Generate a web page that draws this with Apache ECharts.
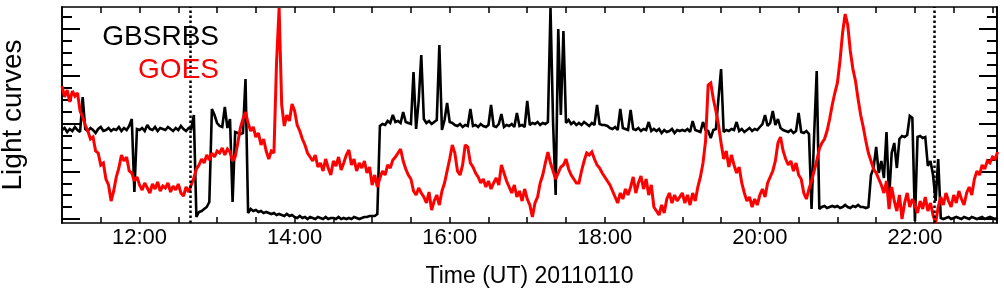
<!DOCTYPE html>
<html>
<head>
<meta charset="utf-8">
<script src="https://cdn.jsdelivr.net/npm/echarts@6/dist/echarts.min.js"></script>
<style>
html,body{margin:0;padding:0;background:#fff;}
#chart{width:1004px;height:296px;}
</style>
</head>
<body>
<div id="chart"></div>
<script>
// Time grid: minutes after midnight, one sample every 2 minutes starting 11:00
const startMinute = 660;
const stepMinutes = 2;
// GBSRBS light curve (arbitrary units)
const gbsrbs = [
93,95,91,94,92,96,93,91,126,94,
92,95,93,90,94,96,92,93,95,92,
94,93,96,92,95,93,97,104,31,94,
93,95,92,98,94,93,96,92,95,94,
93,96,94,92,95,93,97,94,92,95,
94,108,6,11,12,14,16,21,114,108,
100,97,96,116,95,104,21,91,90,89,
90,144,10,14,12,13,11,12,10,11,
10,9,10,8,9,8,7,9,7,8,
6,5,7,5,6,4,6,5,4,6,
5,4,6,4,5,5,4,6,4,5,
4,5,4,6,5,4,5,6,6,7,
7,7,9,97,99,98,102,100,108,101,
102,100,111,101,100,99,151,94,122,168,
104,100,102,99,101,103,178,93,103,120,
101,100,98,97,99,96,98,97,114,97,
98,96,99,97,96,98,118,97,96,99,
109,96,98,97,99,96,110,97,98,96,
122,98,100,99,101,98,100,99,101,215,
100,28,194,108,192,100,103,99,101,98,
100,98,101,99,97,100,98,118,99,98,
98,97,95,94,96,93,114,95,94,93,
113,94,93,95,92,94,93,101,92,94,
92,94,90,93,91,92,94,90,93,92,
93,92,94,91,102,93,92,91,101,93,
92,85,93,94,125,154,91,93,92,94,
93,101,92,94,91,93,95,92,94,93,
96,99,108,97,100,112,98,104,95,93,
92,91,93,90,92,110,91,90,92,89,
14,88,152,14,16,17,15,16,17,16,
17,15,16,18,16,15,17,16,18,16,
16,15,16,48,55,76,50,62,45,91,
24,70,80,55,84,87,86,88,107,105,
2,86,87,85,86,57,62,48,22,64,
5,4,5,6,4,5,6,5,4,6,
5,4,6,5,4,5,6,4,5,6,
5,4,5
];
// GOES light curve (arbitrary units)
const goes = [
137,126,133,121,132,127,130,112,106,98,
92,84,86,72,70,58,60,44,38,22,
32,46,55,68,62,66,52,50,42,46,
38,33,40,35,30,39,34,41,32,37,
35,40,31,37,33,39,30,27,36,31,
38,45,54,58,64,60,68,63,70,66,
72,70,75,68,74,71,62,66,80,95,
104,111,100,92,96,86,90,78,84,72,
64,72,70,160,215,118,97,108,102,119,
112,98,92,84,78,70,66,62,68,56,
60,52,64,55,48,62,57,66,53,60,
68,73,58,64,52,60,55,62,50,56,
38,48,36,45,52,48,58,55,63,66,
70,74,62,54,48,44,32,28,35,30,
26,20,31,13,22,28,18,32,40,52,
64,78,70,52,48,58,78,76,60,56,
50,46,40,44,36,42,34,40,45,38,
58,50,42,36,30,38,26,32,22,34,
24,18,6,20,26,40,48,60,71,60,
52,44,50,56,58,64,54,48,44,40,
40,52,62,70,68,71,64,58,55,50,
46,42,38,32,26,20,30,24,34,28,
36,46,30,40,47,34,44,28,38,16,
12,8,18,10,24,30,20,28,22,26,
30,20,28,18,30,22,36,46,60,82,
138,140,124,112,98,80,64,72,56,68,
58,50,56,40,30,22,26,16,24,18,
28,34,26,40,46,52,62,80,86,72,
64,58,62,52,60,48,44,30,24,34,
42,52,62,74,80,84,92,104,118,130,
140,162,190,209,198,172,154,142,124,108,
96,82,70,62,54,50,44,38,30,42,
14,36,22,12,28,4,20,30,16,24,
18,10,22,14,26,12,20,8,0,16,
26,18,30,22,16,28,20,32,24,18,
30,36,28,44,52,48,58,54,62,60,
66,64,71
];
// Axis range and ticks (minutes after midnight)
const xMin = 660, xMax = 1383.5;
const xTickValues = [690,720,750,780,810,840,870,900,930,960,990,1020,1050,1080,1110,1140,1170,1200,1230,1260,1290,1320,1350,1380];
const xLabelValues = [720,840,960,1080,1200,1320];
const markerTimes = [759, 1335];
const yMin = 0, yMax = 216;
const yMajorTicks = [4, 51.6, 99.2, 146.8, 194.4];
const yMinorTicks = [15.9, 27.8, 39.7, 63.5, 75.4, 87.3, 111.1, 123, 134.9, 158.7, 170.6, 182.5, 206.3];
const seriesNames = ['GBSRBS', 'GOES'];
const xAxisTitle = 'Time (UT) 20110110';
const yAxisTitle = 'Light curves';

const FONT = '"Liberation Sans", Arial, Helvetica, sans-serif';
const toPairs = arr => arr.map((v, i) => [startMinute + i * stepMinutes, v]);
const fmt = v => { const h = Math.floor(v / 60), m = Math.round(v % 60); return String(h).padStart(2,'0') + ':' + String(m).padStart(2,'0'); };

const axisLine = {show: true, onZero: false, lineStyle: {color: '#000', width: 1.6}};
const xBase = {
  type: 'value', min: xMin, max: xMax, splitLine: {show: false}, axisLine: axisLine,
  axisTick: {show: true, inside: true, length: 6, customValues: xTickValues, lineStyle: {color: '#000', width: 1.5}}
};
const yBase = {
  type: 'value', min: yMin, max: yMax, splitLine: {show: false}, axisLabel: {show: false}, axisLine: axisLine
};
const tick = (vals, len) => ({show: true, inside: true, length: len, customValues: vals, lineStyle: {color: '#000', width: 2}});

const chart = echarts.init(document.getElementById('chart'), null, {renderer: 'canvas'});
chart.setOption({
  animation: false,
  backgroundColor: '#fff',
  grid: {left: 62, right: 7, top: 7, bottom: 73, outerBoundsMode: 'none', show: false},
  xAxis: [
    Object.assign({}, xBase, {
      position: 'bottom',
      axisLabel: {show: true, customValues: xLabelValues, formatter: fmt, color: '#000', fontSize: 22, fontFamily: FONT, margin: 4},
      name: xAxisTitle, nameLocation: 'middle', nameGap: 42,
      nameTextStyle: {color: '#000', fontSize: 23, fontFamily: FONT}
    }),
    Object.assign({}, xBase, {position: 'top', axisLabel: {show: false}})
  ],
  yAxis: [
    Object.assign({}, yBase, {position: 'left', axisTick: tick(yMajorTicks, 18),
      name: yAxisTitle, nameLocation: 'middle', nameGap: 35,
      nameTextStyle: {color: '#000', fontSize: 28, fontFamily: FONT}}),
    Object.assign({}, yBase, {position: 'left', axisTick: tick(yMinorTicks, 10)}),
    Object.assign({}, yBase, {position: 'right', axisTick: tick(yMajorTicks, 18)}),
    Object.assign({}, yBase, {position: 'right', axisTick: tick(yMinorTicks, 10)})
  ],
  series: [
    {
      name: seriesNames[0], type: 'line', data: toPairs(gbsrbs), xAxisIndex: 0, yAxisIndex: 0,
      showSymbol: false, symbol: 'none', silent: true, z: 2,
      lineStyle: {color: '#000', width: 2.6, join: 'miter', miterLimit: 2}, itemStyle: {color: '#000'},
      markLine: {
        silent: true, symbol: 'none', label: {show: false},
        lineStyle: {color: '#000', width: 2.5, type: [2.5, 2.5]},
        emphasis: {disabled: true},
        data: markerTimes.map(t => ({xAxis: t}))
      }
    },
    {
      name: seriesNames[1], type: 'line', data: toPairs(goes), xAxisIndex: 0, yAxisIndex: 0,
      showSymbol: false, symbol: 'none', silent: true, z: 3,
      lineStyle: {color: '#ff0000', width: 3, join: 'miter', miterLimit: 2}, itemStyle: {color: '#ff0000'}
    }
  ],
  graphic: [
    {type: 'text', x: 219, y: 37, silent: true, z: 10,
      style: {text: seriesNames[0], fill: '#000', font: '28px ' + FONT, align: 'right', verticalAlign: 'middle', textAlign: 'right', textVerticalAlign: 'middle'}},
    {type: 'text', x: 219, y: 70, silent: true, z: 10,
      style: {text: seriesNames[1], fill: '#ff0000', font: '28px ' + FONT, align: 'right', verticalAlign: 'middle', textAlign: 'right', textVerticalAlign: 'middle'}}
  ]
});
</script>
</body>
</html>
